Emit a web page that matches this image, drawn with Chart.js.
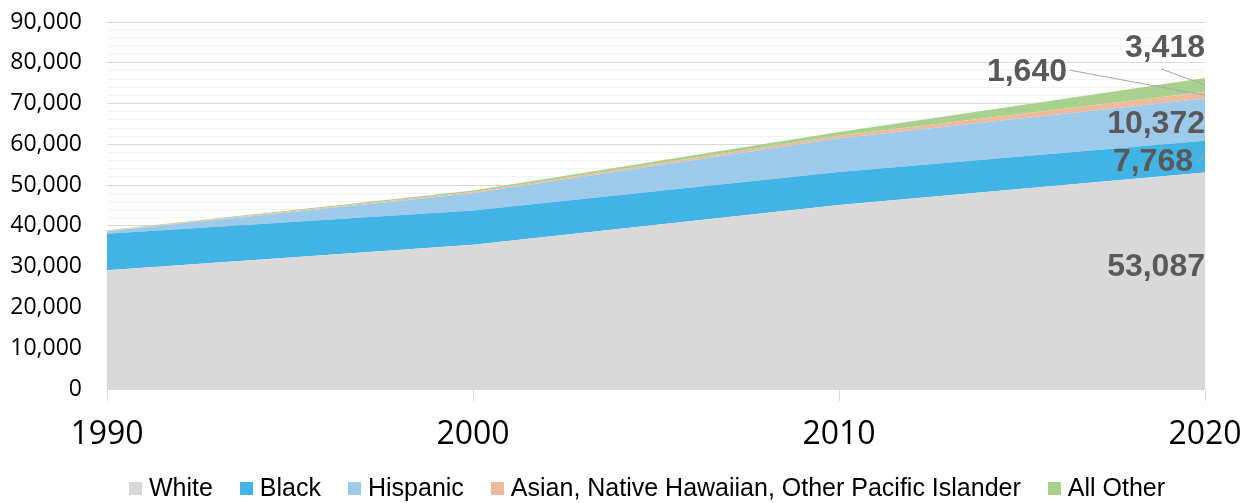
<!DOCTYPE html>
<html>
<head>
<meta charset="utf-8">
<script src="https://cdn.jsdelivr.net/npm/chart.js@4"></script>
<style>
  html, body { margin: 0; padding: 0; background: #ffffff; }
  #wrap { width: 1252px; height: 503px; position: relative; }
</style>
</head>
<body>
<div id="wrap"><canvas id="c" width="1252" height="503"></canvas></div>
<script>
const years = ['1990', '2000', '2010', '2020'];
const white = [29100, 35400, 45100, 53087];
const black = [8950, 8400, 8100, 7768];
const hispanic = [650, 4200, 8300, 10372];
const asian = [100, 300, 600, 1640];
const allOther = [100, 400, 900, 3418];
const seriesNames = ['White', 'Black', 'Hispanic', 'Asian, Native Hawaiian, Other Pacific Islander', 'All Other'];
const yTickValues = [0, 10000, 20000, 30000, 40000, 50000, 60000, 70000, 80000, 90000];

const colors = ['#d9d9d9', '#41b3e4', '#9dcaeb', '#efba9b', '#a9d18e'];
const seriesData = [white, black, hispanic, asian, allOther];

// label placement (pixel offsets from band middle at last point; styling only)
const labelPlace = [
  { dx: 0, dy: -14, leader: null },
  { dx: -12, dy: 5, leader: 'short' },
  { dx: 0, dy: 4, leader: null },
  { dx: -138, dy: -23, leader: 'long' },
  { dx: 0, dy: -37, leader: 'long' }
];

const endLabels = {
  id: 'endLabels',
  afterDatasetsDraw(chart) {
    const ctx = chart.ctx;
    const last = years.length - 1;
    const yScale = chart.scales.y;
    const xScale = chart.scales.x;
    const xEnd = xScale.getPixelForValue(last);
    let cum = 0;
    ctx.save();
    ctx.font = 'bold 32px "Liberation Sans", Arial, sans-serif';
    ctx.fillStyle = '#595959';
    ctx.textAlign = 'right';
    ctx.textBaseline = 'middle';
    seriesData.forEach((arr, i) => {
      const v = arr[last];
      const yBot = yScale.getPixelForValue(cum);
      const yTop = yScale.getPixelForValue(cum + v);
      cum += v;
      const mid = (yBot + yTop) / 2;
      const p = labelPlace[i];
      const tx = xEnd + p.dx;
      const ty = mid + p.dy;
      const text = v.toLocaleString('en-US');
      ctx.fillText(text, tx, ty);
      if (p.leader) {
        ctx.strokeStyle = '#a6a6a6';
        ctx.lineWidth = 1;
        ctx.beginPath();
        if (p.leader === 'short') {
          ctx.moveTo(tx + 3, ty + 1);
          ctx.lineTo(xEnd, mid);
        } else {
          const w = ctx.measureText(text).width;
          if (p.dx < -50) {
            ctx.moveTo(tx + 3, ty - 2);
          } else {
            ctx.moveTo(tx - w * 0.55, ty + 21);
          }
          ctx.lineTo(xEnd, mid);
        }
        ctx.stroke();
      }
    });
    ctx.restore();
  }
};

// custom bottom legend
const bottomLegend = {
  id: 'bottomLegend',
  afterDraw(chart) {
    const ctx = chart.ctx;
    ctx.save();
    ctx.font = '25px "Liberation Sans", Arial, sans-serif';
    ctx.textBaseline = 'middle';
    ctx.textAlign = 'left';
    const box = 13, gapText = 7, gapItem = 27;
    const widths = seriesNames.map(n => ctx.measureText(n).width);
    const total = widths.reduce((a, w) => a + box + gapText + w, 0) + gapItem * (seriesNames.length - 1);
    let x = 647 - total / 2;
    const cy = 488.5;
    seriesNames.forEach((n, i) => {
      ctx.fillStyle = colors[i];
      ctx.fillRect(Math.round(x), Math.round(cy - box / 2), box, box);
      ctx.fillStyle = '#000000';
      ctx.fillText(n, x + box + gapText, cy + 1);
      x += box + gapText + widths[i] + gapItem;
    });
    ctx.restore();
  }
};

const datasets = seriesData.map((arr, i) => ({
  label: seriesNames[i],
  data: arr,
  backgroundColor: colors[i],
  borderColor: colors[i],
  borderWidth: 0,
  pointRadius: 0,
  fill: i === 0 ? 'origin' : '-1',
  tension: 0
}));

new Chart(document.getElementById('c'), {
  type: 'line',
  data: { labels: years, datasets },
  plugins: [endLabels, bottomLegend],
  options: {
    responsive: false,
    animation: false,
    layout: { padding: { left: 0, right: 47, top: 22, bottom: 34 } },
    plugins: {
      tooltip: { enabled: false },
      legend: { display: false }
    },
    scales: {
      x: {
        type: 'category',
        offset: false,
        grid: { display: true, drawOnChartArea: false, tickLength: 12, color: '#d9d9d9' },
        border: { display: true, color: '#d9d9d9' },
        ticks: {
          color: '#000000',
          padding: 2,
          maxRotation: 0,
          font: { family: '"Open Sans", sans-serif', size: 32, lineHeight: 2.0 }
        }
      },
      y: {
        stacked: true,
        min: 0,
        max: 90000,
        afterFit(scale) { scale.width = 107; },
        afterBuildTicks(scale) {
          const t = [];
          for (let v = 0; v <= 90000; v += 2000) t.push({ value: v });
          scale.ticks = t;
        },
        grid: {
          drawTicks: true,
          tickLength: 22,
          tickColor: 'rgba(0,0,0,0)',
          color(ctx) {
            const v = ctx.tick ? ctx.tick.value : 0;
            return yTickValues.includes(v) ? '#d9d9d9' : '#f2f2f2';
          }
        },
        border: { display: false },
        ticks: {
          autoSkip: false,
          padding: 3,
          color: '#000000',
          font: { family: '"Open Sans", sans-serif', size: 23 },
          callback(v) { return yTickValues.includes(v) ? v.toLocaleString('en-US') : ''; }
        }
      }
    }
  }
});
</script>
</body>
</html>
